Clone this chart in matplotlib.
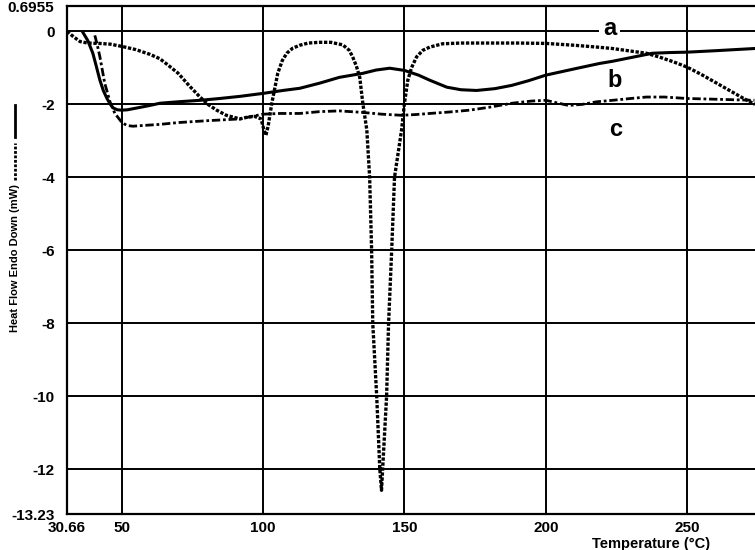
import matplotlib
matplotlib.use("Agg")
import matplotlib.pyplot as plt
from matplotlib.lines import Line2D

plt.rcParams['font.family'] = ['Liberation Sans', 'DejaVu Sans']
plt.rcParams['font.weight'] = 'bold'

# curve a (dotted) - big melt dip near 141 C
a_t = [30.66, 33, 35.3, 38, 42, 45.9, 50, 55, 60, 63.5, 66, 70, 74, 77.7, 80.5,
       83.6, 87, 91.8, 94, 97, 99.3, 100.3, 101.0, 101.8, 103.1, 105.2, 106.8,
       108.4, 110.5, 113, 116, 120, 124, 128.2, 130.5, 131.7, 133, 134.2, 135.3,
       136.7, 137.7, 138.4, 138.8, 140.2, 141.3, 141.9, 142.3, 143.7, 144.4,
       145.5, 146.5, 149, 150, 151.2, 152.5, 154.3, 156.5, 159, 163.5, 170, 180,
       190, 200, 210, 218, 223.6, 230, 235.6, 240, 245, 250, 255, 260, 265, 270,
       274]
a_hf = [0.0, -0.15, -0.28, -0.32, -0.33, -0.35, -0.41, -0.5, -0.63, -0.75, -0.9,
        -1.15, -1.5, -1.8, -2.0, -2.16, -2.3, -2.4, -2.36, -2.33, -2.4, -2.7,
        -2.85, -2.6, -1.97, -1.15, -0.8, -0.6, -0.46, -0.38, -0.32, -0.3, -0.3,
        -0.37, -0.52, -0.7, -0.95, -1.26, -1.98, -2.7, -4.0, -6.0, -8.0, -10.0,
        -12.0, -12.58, -12.0, -10.0, -8.0, -6.0, -4.0, -2.7, -1.98, -1.34, -1.0,
        -0.7, -0.52, -0.43, -0.34, -0.32, -0.32, -0.32, -0.33, -0.38, -0.43,
        -0.47, -0.54, -0.6, -0.7, -0.83, -0.98, -1.18, -1.4, -1.62, -1.84, -2.0]

# curve b (solid)
b_t = [36.3, 38, 39.8, 41, 42.3, 43.5, 44.8, 46, 47, 48.5, 50, 52, 55.4, 60,
       63.5, 70, 77.7, 84.7, 92, 100, 107, 113, 120, 127, 135.3, 140, 144.8, 150,
       155, 159, 165, 170, 175.5, 182, 188, 194, 200, 210, 219, 223.6, 230, 237.7,
       244, 250, 260, 273.8]
b_hf = [-0.03, -0.25, -0.6, -0.95, -1.34, -1.62, -1.84, -2.0, -2.1, -2.15, -2.16,
        -2.15, -2.1, -2.03, -1.97, -1.93, -1.89, -1.84, -1.78, -1.7, -1.62, -1.56,
        -1.42, -1.26, -1.15, -1.06, -1.01, -1.07, -1.2, -1.34, -1.53, -1.6, -1.62,
        -1.57, -1.48, -1.35, -1.2, -1.03, -0.88, -0.82, -0.72, -0.6, -0.58, -0.57,
        -0.53, -0.47]

# curve c (dash-dot)
c_t = [40.5, 41.3, 42.3, 44, 45.9, 47.6, 50, 51.8, 54, 57.5, 63.5, 70, 80, 91.8,
       96, 100, 106, 113, 120, 127, 135, 142, 149, 154, 159, 166, 173, 180, 188,
       195, 200, 204, 208, 213, 218, 223.6, 230, 235.6, 242, 250, 260, 273.8]
c_hf = [-0.11, -0.35, -0.7, -1.42, -1.94, -2.25, -2.49, -2.58, -2.6, -2.58, -2.55,
        -2.5, -2.45, -2.4, -2.33, -2.27, -2.25, -2.25, -2.2, -2.18, -2.22, -2.27,
        -2.3, -2.28, -2.25, -2.21, -2.16, -2.08, -1.97, -1.91, -1.89, -1.96,
        -2.03, -2.0, -1.93, -1.89, -1.84, -1.8, -1.8, -1.84, -1.86, -1.89]

x_ticks = [30.66, 50, 100, 150, 200, 250]
x_labels = ['30.66', '50', '100', '150', '200', '250']
y_ticks = [0.6955, 0, -2, -4, -6, -8, -10, -12, -13.23]
y_labels = ['0.6955', '0', '-2', '-4', '-6', '-8', '-10', '-12', '-13.23']

fig = plt.figure(figsize=(7.55, 5.5), dpi=100)
ax = fig.add_axes([67/755, 36/550, 1 - 67/755, 508/550])

ax.plot(a_t, a_hf, color='black', lw=2.4, linestyle=(0, (1, 0.5)), zorder=3)
ax.plot(b_t, b_hf, color='black', lw=2.2, zorder=3)
ax.plot(c_t, c_hf, color='black', lw=2.0, linestyle=(0, (3, 1, 1, 1)), zorder=3)

ax.set_xlim(30.66, 274)
ax.set_ylim(-13.23, 0.6955)
ax.set_xticks(x_ticks)
ax.set_xticklabels(x_labels)
ax.set_yticks(y_ticks)
ax.set_yticklabels(y_labels)
ax.tick_params(length=0, labelsize=11)
ax.tick_params(axis='x', pad=5)
ax.tick_params(axis='y', pad=9)

# grid lines
for xv in x_ticks[1:]:
  ax.axvline(xv, color='black', lw=1.4, zorder=1)
for yv in [0, -2, -4, -6, -8, -10, -12]:
  ax.axhline(yv, color='black', lw=1.4, zorder=1)

for side in ['left', 'top', 'bottom']:
  ax.spines[side].set_linewidth(1.6)
ax.spines['right'].set_visible(False)

# curve labels
ax.text(222.5, 0.08, 'a', fontsize=17, fontweight='bold', ha='center', va='center',
        zorder=4, bbox=dict(facecolor='white', edgecolor='none', pad=3))
ax.text(224.3, -1.34, 'b', fontsize=17, fontweight='bold', ha='center', va='center', zorder=4)
ax.text(224.8, -2.68, 'c', fontsize=17, fontweight='bold', ha='center', va='center', zorder=4)

fig.text(651/755, 1 - 544/550, 'Temperature (\u00b0C)', fontsize=10.5,
         fontweight='bold', ha='center', va='center')

# y label with line key
fig.text(15/755, 1 - 258/550, 'Heat Flow Endo Down (mW)', fontsize=8,
         fontweight='bold', rotation=90, ha='center', va='center')
fig.add_artist(Line2D([15/755, 15/755], [1 - 180/550, 1 - 143/550], color='black',
                      lw=2, linestyle=(0, (1, 0.6)), transform=fig.transFigure))
fig.add_artist(Line2D([15/755, 15/755], [1 - 137/550, 1 - 105/550], color='black',
                      lw=2, transform=fig.transFigure))

fig.savefig('out.png', dpi=100)
